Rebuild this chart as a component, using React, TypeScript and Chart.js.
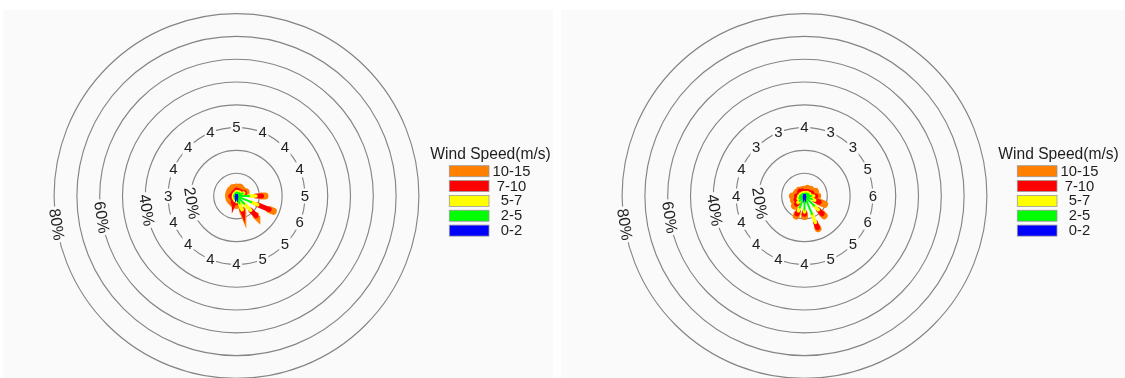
import React, { useEffect, useRef } from 'react';
import { Chart, registerables } from 'chart.js';
Chart.register(...registerables);

// ---------- data ----------
const directions = ['N', 'NNE', 'NE', 'ENE', 'E', 'ESE', 'SE', 'SSE', 'S', 'SSW', 'SW', 'WSW', 'W', 'WNW', 'NW', 'NNW'];
const speedBins = ['0-2', '2-5', '5-7', '7-10', '10-15'];
const ringPercents = [10, 20, 30, 40, 50, 60, 70, 80];
const labeledRings = [20, 40, 60, 80];
const directionLabelRing = 30;
const legendTitle = 'Wind Speed(m/s)';

// left rose: frequency (%) per direction, one array per speed bin
const left0to2 = [0.1, 0.1, 0.1, 0.1, 0.1, 0.1, 0.1, 0.1, 0.1, 0.1, 0.1, 0.1, 0.1, 0.1, 0.1, 0.1];
const left2to5 = [1.4, 1.4, 1.7, 2.9, 5.4, 6.9, 4.7, 3.4, 1.9, 1.4, 1.1, 0.9, 0.9, 0.9, 0.9, 1.1];
const left5to7 = [0.5, 0.5, 0.4, 0.4, 3.0, 3.0, 4.0, 3.0, 0.5, 0.5, 0.4, 0.5, 0.3, 0.3, 0.3, 0.3];
const left7to10 = [0.6, 0.5, 0.4, 0.4, 2.5, 5.5, 3.4, 0.3, 0.5, 0.5, 0.4, 0.5, 1.2, 0.5, 0.5, 0.5];
const left10to15 = [1.4, 1.7, 1.2, 0.8, 1.5, 2.0, 0.4, 0.4, 1.2, 1.3, 1.5, 1.5, 1.0, 1.8, 2.0, 2.0];
const leftDirLabels = [5, 4, 4, 4, 5, 6, 5, 5, 4, 4, 4, 4, 3, 4, 4, 4];

// right rose
const right0to2 = [0.1, 0.1, 0.1, 0.1, 0.1, 0.1, 0.1, 0.1, 0.1, 0.1, 0.1, 0.1, 0.1, 0.1, 0.1, 0.1];
const right2to5 = [0.9, 1.1, 1.4, 1.9, 2.9, 3.4, 5.9, 8.4, 5.9, 5.4, 2.9, 2.4, 1.9, 1.4, 1.1, 0.9];
const right5to7 = [0.5, 0.4, 0.5, 0.5, 1.0, 1.3, 2.5, 4.0, 1.0, 1.5, 1.0, 0.5, 0.5, 0.5, 0.4, 0.5];
const right7to10 = [0.5, 0.6, 0.6, 1.0, 1.0, 2.2, 2.5, 2.5, 1.0, 1.5, 1.0, 1.0, 1.0, 0.5, 1.4, 1.0];
const right10to15 = [1.0, 1.4, 1.4, 1.7, 0.8, 2.5, 1.2, 0.5, 1.0, 1.0, 1.2, 1.2, 1.8, 1.3, 0.5, 0.5];
const rightDirLabels = [4, 3, 3, 5, 6, 6, 5, 5, 4, 4, 4, 4, 4, 4, 3, 3];

// ---------- styles ----------
const binColors = ['#0000ff', '#00ff00', '#ffff00', '#ff0000', '#ff7f00'];
const binWidths = [2.8, 2, 3.6, 5, 7];
const PANEL_BG = '#fafafa';
const FONT = '"Liberation Sans", Arial, Helvetica, sans-serif';
const CW = 557;
const CH = 378;
const UNIT = 2.28; // px per percent
const CX = 236.5;
const CY = 196;

const deg = Math.PI / 180;

const rosePlugin = {
  id: 'roseGrid',
  beforeDatasetsDraw(chart: any) {
    const { ctx } = chart;
    const xs = chart.scales.x;
    const ys = chart.scales.y;
    const cx = xs.getPixelForValue(0);
    const cy = ys.getPixelForValue(0);
    const u = xs.getPixelForValue(1) - cx;
    const dirLabels: number[] = chart.options.plugins.roseGrid.dirLabels;
    ctx.save();
    ctx.strokeStyle = '#858585';
    ctx.lineWidth = 1.15;
    ringPercents.forEach((p) => {
      ctx.beginPath();
      ctx.arc(cx, cy, p * u, 0, Math.PI * 2);
      ctx.stroke();
    });
    // direction numbers on the 30% ring
    ctx.font = `15px ${FONT}`;
    ctx.textAlign = 'center';
    ctx.textBaseline = 'middle';
    dirLabels.forEach((v, i) => {
      const b = i * 22.5 * deg;
      const px = cx + directionLabelRing * u * Math.sin(b);
      const py = cy - directionLabelRing * u * Math.cos(b);
      const t = String(v);
      const w = ctx.measureText(t).width;
      ctx.fillStyle = PANEL_BG;
      ctx.fillRect(px - w / 2 - 1.5, py - 7.5, w + 3, 15);
      ctx.fillStyle = '#1e1e1e';
      ctx.fillText(t, px, py + 0.5);
    });
    // percent labels along rings
    ctx.font = `16px ${FONT}`;
    const b = 261 * deg;
    labeledRings.forEach((p) => {
      const px = cx + p * u * Math.sin(b);
      const py = cy - p * u * Math.cos(b);
      const t = `${p}%`;
      const w = ctx.measureText(t).width;
      ctx.save();
      ctx.translate(px, py);
      ctx.rotate(81 * deg);
      ctx.fillStyle = PANEL_BG;
      ctx.fillRect(-w / 2 - 2, -7.5, w + 4, 15);
      ctx.fillStyle = '#1e1e1e';
      ctx.fillText(t, 0, 0.5);
      ctx.restore();
    });
    ctx.restore();
  },
  afterDraw(chart: any) {
    const { ctx } = chart;
    ctx.save();
    ctx.fillStyle = '#1e1e1e';
    ctx.font = `15.6px ${FONT}`;
    ctx.textAlign = 'center';
    ctx.textBaseline = 'alphabetic';
    ctx.fillText(legendTitle, 490.5, 158.5);
    const order = [4, 3, 2, 1, 0];
    ctx.font = `14.8px ${FONT}`;
    ctx.textBaseline = 'middle';
    order.forEach((k, j) => {
      const top = 165.7 + j * 14.85;
      ctx.fillStyle = binColors[k];
      ctx.fillRect(449.3, top, 39.7, 11);
      ctx.strokeStyle = '#9a9a9a';
      ctx.lineWidth = 0.8;
      ctx.strokeRect(449.3, top, 39.7, 11);
      ctx.fillStyle = '#1e1e1e';
      ctx.fillText(speedBins[k], 511.5, top + 6);
    });
    ctx.restore();
  },
};

function buildDatasets(bins: number[][]) {
  const ds: any[] = [];
  bins.forEach((vals, k) => {
    directions.forEach((d, i) => {
      let start = 0;
      for (let j = 0; j < k; j++) start += bins[j][i];
      const end = start + vals[i];
      const a = i * 22.5 * deg;
      ds.push({
        label: `${d} ${speedBins[k]}`,
        data: [
          { x: start * Math.sin(a), y: start * Math.cos(a) },
          { x: end * Math.sin(a), y: end * Math.cos(a) },
        ],
        showLine: true,
        borderColor: binColors[k],
        backgroundColor: binColors[k],
        borderWidth: binWidths[k],
        borderCapStyle: 'round',
        pointRadius: 0,
        order: k,
        clip: false,
      });
    });
  });
  return ds;
}

function WindRose({ bins, dirLabels, left }: { bins: number[][]; dirLabels: number[]; left: number }) {
  const ref = useRef<HTMLCanvasElement>(null);
  useEffect(() => {
    if (!ref.current) return;
    const chart = new Chart(ref.current, {
      type: 'scatter',
      data: { datasets: buildDatasets(bins) },
      options: {
        animation: false,
        responsive: false,
        maintainAspectRatio: false,
        devicePixelRatio: 1,
        layout: { padding: 0 },
        events: [],
        scales: {
          x: { type: 'linear', display: false, min: -CX / UNIT, max: (CW - CX) / UNIT },
          y: { type: 'linear', display: false, min: -(CH - CY) / UNIT, max: CY / UNIT },
        },
        plugins: {
          legend: { display: false },
          tooltip: { enabled: false },
          roseGrid: { dirLabels },
        } as any,
      },
      plugins: [rosePlugin],
    });
    return () => chart.destroy();
  }, []);
  return (
    <canvas
      ref={ref}
      width={CW}
      height={CH}
      style={{ position: 'absolute', left, top: 0, width: CW, height: CH }}
    />
  );
}

export default function App() {
  return (
    <div style={{ position: 'fixed', left: 0, top: 0, width: 1125, height: 378, background: '#ffffff', overflow: 'hidden' }}>
      <div style={{ position: 'absolute', left: 3, top: 10, width: 550, height: 368, background: PANEL_BG }} />
      <div style={{ position: 'absolute', left: 561, top: 10, width: 564, height: 368, background: PANEL_BG }} />
      <WindRose bins={[left0to2, left2to5, left5to7, left7to10, left10to15]} dirLabels={leftDirLabels} left={0} />
      <WindRose bins={[right0to2, right2to5, right5to7, right7to10, right10to15]} dirLabels={rightDirLabels} left={568} />
    </div>
  );
}
